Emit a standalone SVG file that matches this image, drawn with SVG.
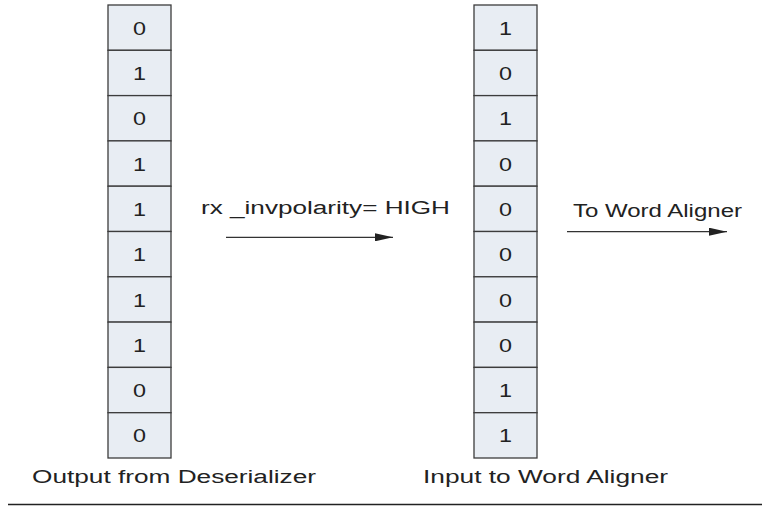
<svg xmlns="http://www.w3.org/2000/svg" width="768" height="509" viewBox="0 0 768 509">
<defs>
<style>
.cell{fill:#e8edf3;stroke:#3c3c3c;stroke-width:1.3}
.d{font-family:"Liberation Sans",Arial,sans-serif;font-size:18px;fill:#222;text-anchor:middle}
.t{font-family:"Liberation Sans",Arial,sans-serif;font-size:18px;fill:#222}
.ln{stroke:#333;stroke-width:1.3;fill:none}
</style>
<marker id="ah" markerWidth="18" markerHeight="8" refX="18" refY="4" orient="auto" markerUnits="userSpaceOnUse">
<path d="M0,0 L18,4 L0,8 Z" fill="#222"/>
</marker>
</defs>
<g id="left-column">
<rect class="cell" x="108" y="5" width="63" height="45.3"/>
<rect class="cell" x="108" y="50.3" width="63" height="45.3"/>
<rect class="cell" x="108" y="95.6" width="63" height="45.3"/>
<rect class="cell" x="108" y="140.9" width="63" height="45.3"/>
<rect class="cell" x="108" y="186.2" width="63" height="45.3"/>
<rect class="cell" x="108" y="231.5" width="63" height="45.3"/>
<rect class="cell" x="108" y="276.8" width="63" height="45.3"/>
<rect class="cell" x="108" y="322.1" width="63" height="45.3"/>
<rect class="cell" x="108" y="367.4" width="63" height="45.3"/>
<rect class="cell" x="108" y="412.7" width="63" height="45.3"/>
<text class="d" x="139.5" y="34.7" textLength="13" lengthAdjust="spacingAndGlyphs">0</text>
<text class="d" x="139.5" y="80" textLength="13" lengthAdjust="spacingAndGlyphs">1</text>
<text class="d" x="139.5" y="125.3" textLength="13" lengthAdjust="spacingAndGlyphs">0</text>
<text class="d" x="139.5" y="170.6" textLength="13" lengthAdjust="spacingAndGlyphs">1</text>
<text class="d" x="139.5" y="215.9" textLength="13" lengthAdjust="spacingAndGlyphs">1</text>
<text class="d" x="139.5" y="261.2" textLength="13" lengthAdjust="spacingAndGlyphs">1</text>
<text class="d" x="139.5" y="306.5" textLength="13" lengthAdjust="spacingAndGlyphs">1</text>
<text class="d" x="139.5" y="351.8" textLength="13" lengthAdjust="spacingAndGlyphs">1</text>
<text class="d" x="139.5" y="397.1" textLength="13" lengthAdjust="spacingAndGlyphs">0</text>
<text class="d" x="139.5" y="442.4" textLength="13" lengthAdjust="spacingAndGlyphs">0</text>
<text class="t" x="32" y="483" textLength="284" lengthAdjust="spacingAndGlyphs">Output from Deserializer</text>
</g>
<g id="right-column">
<rect class="cell" x="474" y="5" width="63" height="45.3"/>
<rect class="cell" x="474" y="50.3" width="63" height="45.3"/>
<rect class="cell" x="474" y="95.6" width="63" height="45.3"/>
<rect class="cell" x="474" y="140.9" width="63" height="45.3"/>
<rect class="cell" x="474" y="186.2" width="63" height="45.3"/>
<rect class="cell" x="474" y="231.5" width="63" height="45.3"/>
<rect class="cell" x="474" y="276.8" width="63" height="45.3"/>
<rect class="cell" x="474" y="322.1" width="63" height="45.3"/>
<rect class="cell" x="474" y="367.4" width="63" height="45.3"/>
<rect class="cell" x="474" y="412.7" width="63" height="45.3"/>
<text class="d" x="505.5" y="34.7" textLength="13" lengthAdjust="spacingAndGlyphs">1</text>
<text class="d" x="505.5" y="80" textLength="13" lengthAdjust="spacingAndGlyphs">0</text>
<text class="d" x="505.5" y="125.3" textLength="13" lengthAdjust="spacingAndGlyphs">1</text>
<text class="d" x="505.5" y="170.6" textLength="13" lengthAdjust="spacingAndGlyphs">0</text>
<text class="d" x="505.5" y="215.9" textLength="13" lengthAdjust="spacingAndGlyphs">0</text>
<text class="d" x="505.5" y="261.2" textLength="13" lengthAdjust="spacingAndGlyphs">0</text>
<text class="d" x="505.5" y="306.5" textLength="13" lengthAdjust="spacingAndGlyphs">0</text>
<text class="d" x="505.5" y="351.8" textLength="13" lengthAdjust="spacingAndGlyphs">0</text>
<text class="d" x="505.5" y="397.1" textLength="13" lengthAdjust="spacingAndGlyphs">1</text>
<text class="d" x="505.5" y="442.4" textLength="13" lengthAdjust="spacingAndGlyphs">1</text>
<text class="t" x="423" y="483" textLength="245" lengthAdjust="spacingAndGlyphs">Input to Word Aligner</text>
</g>
<g id="connectors">
<line class="ln" x1="226" y1="237.3" x2="393" y2="237.3" marker-end="url(#ah)"/>
<text class="t" x="201" y="214" textLength="249" lengthAdjust="spacingAndGlyphs">rx _invpolarity= HIGH</text>
<line class="ln" x1="567" y1="231.7" x2="727" y2="231.7" marker-end="url(#ah)"/>
<text class="t" x="573" y="216.5" textLength="169" lengthAdjust="spacingAndGlyphs">To Word Aligner</text>
</g>
<line x1="8" y1="504.5" x2="762" y2="504.5" stroke="#222" stroke-width="1.6"/>
</svg>
